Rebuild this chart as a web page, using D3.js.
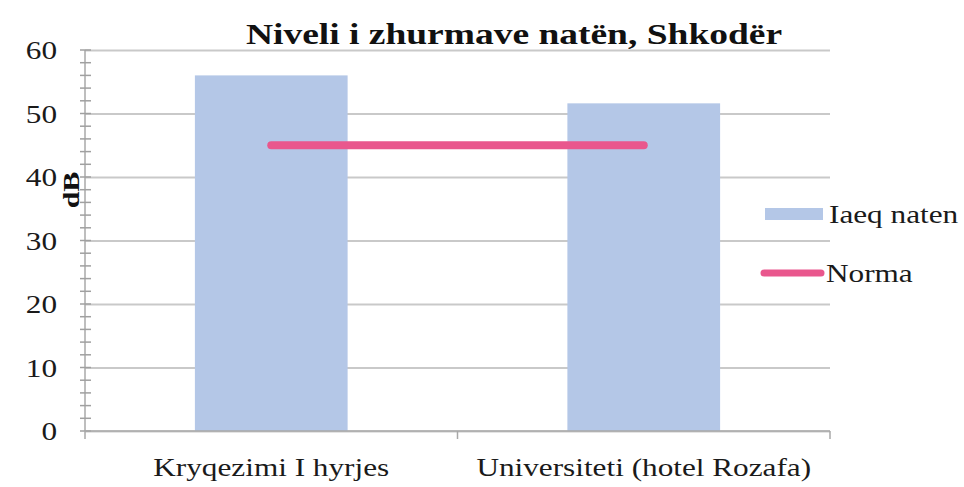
<!DOCTYPE html>
<html>
<head>
<meta charset="utf-8">
<script src="https://cdn.jsdelivr.net/npm/d3@7"></script>
<style>
  html, body { margin: 0; padding: 0; background: #fff; }
  svg { display: block; }
  text { font-family: "Liberation Serif", "Times New Roman", serif; fill: #1a1a1a; }
</style>
</head>
<body>
<svg id="chart" width="964" height="487"></svg>
<script>
// ---- data ----
const categories = ["Kryqezimi I hyrjes", "Universiteti (hotel Rozafa)"];
const laeqValues = [56, 51.6];
const normaValues = [45, 45];
const seriesNames = ["Iaeq naten", "Norma"];
const yTicks = [0, 10, 20, 30, 40, 50, 60];
const yMinorTicks = d3.range(0, 61, 2);
const titleText = "Niveli i zhurmave natën, Shkodër";
const yLabel = "dB";

// ---- layout ----
const W = 964, H = 487;
const margin = { left: 85, right: 134, top: 50, bottom: 56 };
const innerW = W - margin.left - margin.right;
const innerH = H - margin.top - margin.bottom;
const SX = 1.25; // horizontal text stretch seen in reference

const barColor = "#b4c7e7";
const normaColor = "#e9578d";
const gridColor = "#c9c9c9";
const textColor = "#1a1a1a";

const svg = d3.select("#chart");
const g = svg.append("g").attr("transform", `translate(${margin.left},${margin.top})`);

const x = d3.scaleBand().domain(categories).range([0, innerW]).padding(0);
const y = d3.scaleLinear().domain([0, 60]).range([innerH, 0]);
const barW = x.bandwidth() * 0.41;

// gridlines
g.append("g")
  .call(d3.axisLeft(y).tickValues(yTicks).tickSize(-innerW).tickFormat(""))
  .call(s => s.select(".domain").remove())
  .call(s => s.selectAll("line").attr("stroke", gridColor).attr("stroke-width", 2));

// bars
g.selectAll("rect.bar")
  .data(categories)
  .join("rect")
  .attr("class", "bar")
  .attr("x", (d) => x(d) + x.bandwidth() / 2 - barW / 2)
  .attr("width", barW)
  .attr("y", (d, i) => y(laeqValues[i]))
  .attr("height", (d, i) => innerH - y(laeqValues[i]))
  .attr("fill", barColor);

// y axis line
g.append("line")
  .attr("x1", 0).attr("x2", 0)
  .attr("y1", y(60)).attr("y2", y(0))
  .attr("stroke", "#a8a8a8").attr("stroke-width", 1.5);

// minor ticks (crossing)
g.selectAll("line.minor")
  .data(yMinorTicks)
  .join("line")
  .attr("class", "minor")
  .attr("x1", -5).attr("x2", 6)
  .attr("y1", d => y(d)).attr("y2", d => y(d))
  .attr("stroke", "#a0a0a0").attr("stroke-width", 1.5);

// y tick labels
g.append("g")
  .call(d3.axisLeft(y).tickValues(yTicks).tickSize(0).tickPadding(0).tickFormat(d3.format("d")))
  .call(s => s.select(".domain").remove())
  .call(s => s.selectAll("text")
    .attr("x", null)
    .attr("dy", "0.34em")
    .attr("transform", `translate(-28,0) scale(${SX},1)`)
    .style("font-family", "Liberation Serif, serif")
    .style("font-size", "25px")
    .style("fill", textColor));

// x axis line
g.append("line")
  .attr("x1", 0).attr("x2", innerW)
  .attr("y1", innerH).attr("y2", innerH)
  .attr("stroke", "#a8a8a8").attr("stroke-width", 1.5);

// category boundary ticks
const bounds = categories.map(c => x(c)).concat([innerW]);
g.selectAll("line.ctick")
  .data(bounds)
  .join("line")
  .attr("class", "ctick")
  .attr("x1", d => d).attr("x2", d => d)
  .attr("y1", innerH).attr("y2", innerH + 8)
  .attr("stroke", "#a8a8a8").attr("stroke-width", 1.5);

// x labels
g.append("g")
  .call(d3.axisBottom(x).tickSize(0).tickPadding(0))
  .call(s => s.select(".domain").remove())
  .call(s => s.selectAll(".tick").attr("transform", d => `translate(${x(d) + x.bandwidth() / 2},${innerH})`))
  .call(s => s.selectAll("text")
    .attr("y", null).attr("dy", null)
    .attr("transform", `translate(0,45) scale(${SX},1)`)
    .attr("text-anchor", "middle")
    .style("font-family", "Liberation Serif, serif")
    .style("font-size", "25px")
    .style("fill", textColor));

// Norma line
const line = d3.line()
  .x((d, i) => x(categories[i]) + x.bandwidth() / 2)
  .y(d => y(d));
g.append("path")
  .datum(normaValues)
  .attr("d", line)
  .attr("fill", "none")
  .attr("stroke", normaColor)
  .attr("stroke-width", 8)
  .attr("stroke-linecap", "round");

// title
svg.append("text")
  .attr("transform", `translate(514,44) scale(${SX},1)`)
  .attr("text-anchor", "middle")
  .style("font-size", "30px")
  .style("font-weight", "bold")
  .style("fill", "#111")
  .text(titleText);

// y label
svg.append("text")
  .attr("transform", `translate(79,190) rotate(-90) scale(${SX},1)`)
  .attr("text-anchor", "middle")
  .style("font-size", "24px")
  .style("font-weight", "bold")
  .style("fill", "#111")
  .text(yLabel);

// legend
const leg = svg.append("g");
leg.append("rect")
  .attr("x", 765).attr("y", 208).attr("width", 58).attr("height", 12)
  .attr("fill", barColor);
leg.append("text")
  .attr("transform", `translate(829,223) scale(${SX},1)`)
  .style("font-size", "25px")
  .style("fill", textColor)
  .text(seriesNames[0]);
leg.append("line")
  .attr("x1", 764).attr("x2", 821)
  .attr("y1", 273).attr("y2", 273)
  .attr("stroke", normaColor).attr("stroke-width", 7)
  .attr("stroke-linecap", "round");
leg.append("text")
  .attr("transform", `translate(826,282) scale(${SX},1)`)
  .style("font-size", "25px")
  .style("fill", textColor)
  .text(seriesNames[1]);
</script>
</body>
</html>
